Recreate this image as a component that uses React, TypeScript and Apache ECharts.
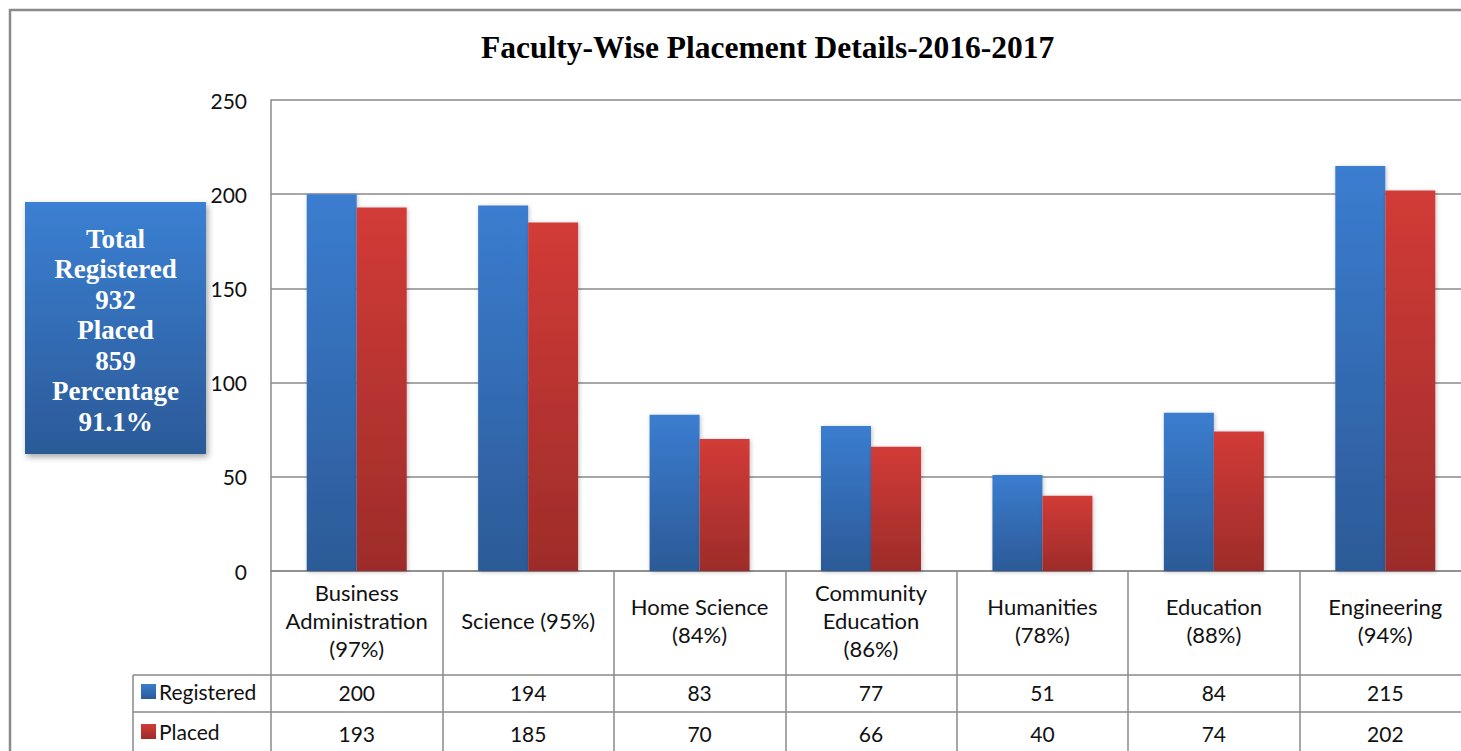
import React, { useEffect, useRef } from "react";
import * as echarts from "echarts";

const categories = [
  "Business\nAdministration\n(97%)",
  "Science (95%)",
  "Home Science\n(84%)",
  "Community\nEducation\n(86%)",
  "Humanities\n(78%)",
  "Education\n(88%)",
  "Engineering\n(94%)",
];
const registered = [200, 194, 83, 77, 51, 84, 215];
const placed = [193, 185, 70, 66, 40, 74, 202];
const summaryLines = ["Total", "Registered", "932", "Placed", "859", "Percentage", "91.1%"];
const titleText = "Faculty-Wise Placement Details-2016-2017";

const GRAY = "#8a8a8a";
const FONT = "Lato";

const blueGrad = new echarts.graphic.LinearGradient(0, 0, 0, 1, [
  { offset: 0, color: "#3b7dd0" },
  { offset: 1, color: "#2c5a97" },
]);
const redGrad = new echarts.graphic.LinearGradient(0, 0, 0, 1, [
  { offset: 0, color: "#d23b37" },
  { offset: 1, color: "#9d2c2a" },
]);

export default function App() {
  const ref = useRef<HTMLDivElement>(null);
  useEffect(() => {
    if (!ref.current) return;
    const chart = echarts.init(ref.current, null, { renderer: "svg" });
    const lineStyle = { color: GRAY, width: 1.5 };
    chart.setOption({
      animation: false,
      backgroundColor: "#ffffff",
      title: {
        text: titleText,
        left: 481,
        top: 31,
        padding: 0,
        textStyle: {
          fontFamily: "Liberation Serif",
          fontWeight: "bold",
          fontSize: 31.5,
          color: "#000",
        },
      },
      legend: {
        orient: "vertical",
        left: 141,
        top: 681,
        padding: 0,
        itemGap: 19,
        itemWidth: 15,
        itemHeight: 15,
        icon: "rect",
        textStyle: { fontFamily: FONT, fontSize: 21, color: "#111", padding: [0, 0, 0, -2] },
        data: ["Registered", "Placed"],
      },
      grid: { left: 271, top: 100, right: 9, bottom: 180, containLabel: false },
      xAxis: [
        {
          type: "category",
          data: categories,
          position: "bottom",
          axisLine: { show: true, lineStyle },
          axisTick: { show: true, length: 104, lineStyle, alignWithLabel: false },
          axisLabel: {
            interval: 0,
            fontFamily: FONT,
            fontSize: 22,
            lineHeight: 28,
            margin: 49,
            verticalAlign: "middle",
            color: "#111",
          },
        },
        {
          type: "category",
          data: registered.map(String),
          position: "bottom",
          offset: 104,
          axisLine: { show: true, lineStyle },
          axisTick: { show: true, length: 37, lineStyle, alignWithLabel: false },
          axisLabel: {
            interval: 0,
            fontFamily: FONT,
            fontSize: 21,
            margin: 17,
            verticalAlign: "middle",
            color: "#111",
          },
        },
        {
          type: "category",
          data: placed.map(String),
          position: "bottom",
          offset: 141,
          axisLine: { show: true, lineStyle },
          axisTick: { show: true, length: 60, lineStyle, alignWithLabel: false },
          axisLabel: {
            interval: 0,
            fontFamily: FONT,
            fontSize: 21,
            margin: 21,
            verticalAlign: "middle",
            color: "#111",
          },
        },
      ],
      yAxis: {
        type: "value",
        min: 0,
        max: 250,
        interval: 50,
        axisLine: { show: true, lineStyle },
        axisTick: { show: false },
        splitLine: { show: true, lineStyle },
        axisLabel: { fontFamily: FONT, fontSize: 21, color: "#111", margin: 24 },
      },
      series: [
        {
          name: "Registered",
          type: "bar",
          xAxisIndex: 0,
          data: registered,
          barWidth: 50,
          barGap: "0%",
          itemStyle: {
            color: blueGrad,
            shadowBlur: 4,
            shadowColor: "rgba(0,0,0,0.25)",
            shadowOffsetX: 1,
            shadowOffsetY: 1,
          },
        },
        {
          name: "Placed",
          type: "bar",
          xAxisIndex: 0,
          data: placed,
          barWidth: 50,
          barGap: "0%",
          itemStyle: {
            color: redGrad,
            shadowBlur: 4,
            shadowColor: "rgba(0,0,0,0.25)",
            shadowOffsetX: 1,
            shadowOffsetY: 1,
          },
        },
      ],
      graphic: [
        {
          type: "rect",
          shape: { x: 10, y: 10, width: 1600, height: 900 },
          style: { fill: "none", stroke: GRAY, lineWidth: 2.5 },
          silent: true,
        },
        {
          type: "line",
          shape: { x1: 133, y1: 675, x2: 271, y2: 675 },
          style: { stroke: GRAY, lineWidth: 1.5 },
        },
        {
          type: "line",
          shape: { x1: 133, y1: 712, x2: 271, y2: 712 },
          style: { stroke: GRAY, lineWidth: 1.5 },
        },
        {
          type: "line",
          shape: { x1: 133, y1: 675, x2: 133, y2: 760 },
          style: { stroke: GRAY, lineWidth: 1.5 },
        },
        {
          type: "rect",
          shape: { x: 25, y: 202, width: 181, height: 252 },
          style: {
            fill: new echarts.graphic.LinearGradient(0, 0, 0, 1, [
              { offset: 0, color: "#3b80d3" },
              { offset: 1, color: "#2b5a98" },
            ]),
            shadowBlur: 6,
            shadowColor: "rgba(0,0,0,0.35)",
            shadowOffsetX: 2,
            shadowOffsetY: 3,
          },
        },
        {
          type: "text",
          x: 115.5,
          y: 330,
          style: {
            text: summaryLines.join("\n"),
            fill: "#ffffff",
            fontFamily: "Liberation Serif",
            fontWeight: "bold",
            fontSize: 27,
            lineHeight: 30.5,
            align: "center",
            verticalAlign: "middle",
          },
        },
      ],
    });
    return () => chart.dispose();
  }, []);
  return (
    <div
      style={{
        position: "fixed",
        left: 0,
        top: 0,
        width: 1461,
        height: 751,
        overflow: "hidden",
        background: "#fff",
      }}
    >
      <div ref={ref} style={{ width: 1480, height: 751 }} />
    </div>
  );
}
